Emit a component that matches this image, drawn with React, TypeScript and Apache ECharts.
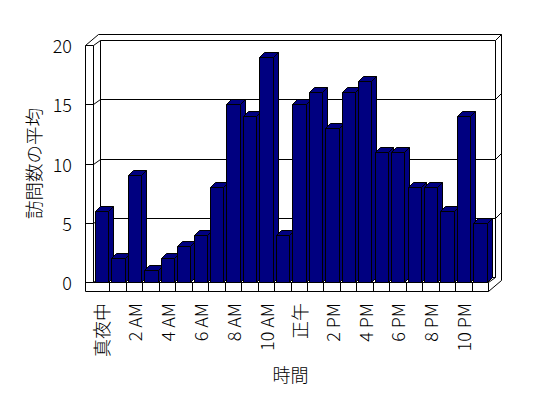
import React, { useEffect, useRef } from 'react';
import * as echarts from 'echarts';

const hours = [
  '真夜中', '1 AM', '2 AM', '3 AM', '4 AM', '5 AM', '6 AM', '7 AM', '8 AM', '9 AM', '10 AM', '11 AM',
  '正午', '1 PM', '2 PM', '3 PM', '4 PM', '5 PM', '6 PM', '7 PM', '8 PM', '9 PM', '10 PM', '11 PM',
];
const visits = [6, 2, 9, 1, 2, 3, 4, 8, 15, 14, 19, 4, 15, 16, 13, 16, 17, 11, 11, 8, 8, 6, 14, 5];
const yTicks = [0, 5, 10, 15, 20];

const FONT = '"Noto Sans CJK JP", "Noto Sans", sans-serif';
const WALL_DX = 7;
const WALL_DY = -5;
const THICK = 6;
const LEFT_W = 8;
const FLOOR_H = 9;
const BAR_DX = 5;
const BAR_DY = -5;

const s = (n: number) => Math.round(n) + 0.5;
const lineStyle = { stroke: '#000', lineWidth: 1, fill: 'none' };

function line(pts: number[][]) {
  return { type: 'polyline', shape: { points: pts.map(([x, y]) => [s(x), s(y)]) }, style: lineStyle };
}

function frameItem(params: any, api: any) {
  const cs = params.coordSys;
  const L = cs.x, R = cs.x + cs.width, T = cs.y, B = cs.y + cs.height;
  const v = api.value(1);
  const y = api.coord([0, v])[1];
  const children: any[] = [];
  if (params.dataIndex === 0) {
    const n = hours.length;
    const bw = cs.width / n;
    children.push(line([
      [L - LEFT_W, B + FLOOR_H], [L - LEFT_W, T], [L - LEFT_W + 13, T - 11],
      [R + WALL_DX + THICK, T - 11], [R + WALL_DX + THICK, B - 2], [R, B + FLOOR_H],
    ]));
    children.push(line([[L, T], [L, B]]));
    children.push(line([[L + WALL_DX, T + WALL_DY], [L + WALL_DX, B + WALL_DY]]));
    children.push(line([[R + WALL_DX, T + WALL_DY], [R + WALL_DX, B + WALL_DY]]));
    children.push(line([[L, B], [R, B], [R + WALL_DX, B + WALL_DY]]));
    children.push(line([[L - LEFT_W, B + FLOOR_H], [R, B + FLOOR_H], [R, B]]));
    for (let k = 1; k < n; k++) {
      const x = L + k * bw;
      children.push(line([[x, B], [x, B + FLOOR_H]]));
    }
  }
  const pts = [[L - LEFT_W, y], [L, y], [L + WALL_DX, y + WALL_DY], [R + WALL_DX, y + WALL_DY]];
  if (v !== 0) pts.push([R + WALL_DX + THICK, y + WALL_DY - THICK]);
  children.push(line(pts));
  return { type: 'group', children };
}

function barItem(params: any, api: any) {
  const i = api.value(0);
  const v = api.value(1);
  const [cx, yTop] = api.coord([i, v]);
  const yBase = api.coord([i, 0])[1];
  const bw = api.size([1, 0])[0];
  const x0 = s(cx - bw / 2 + 0.11 * bw);
  const x1 = s(cx - bw / 2 + 0.92 * bw);
  const yv = s(yTop);
  const y0 = s(yBase);
  const style = { fill: '#000080', stroke: '#000', lineWidth: 1 };
  return {
    type: 'group',
    children: [
      { type: 'polygon', shape: { points: [[x0, yv], [x1, yv], [x1, y0], [x0, y0]] }, style },
      { type: 'polygon', shape: { points: [[x0, yv], [x0 + BAR_DX, yv + BAR_DY], [x1 + BAR_DX, yv + BAR_DY], [x1, yv]] }, style },
      { type: 'polygon', shape: { points: [[x1, yv], [x1 + BAR_DX, yv + BAR_DY], [x1 + BAR_DX, y0 + BAR_DY], [x1, y0]] }, style },
    ],
  };
}

export default function App() {
  const ref = useRef<HTMLDivElement>(null);
  useEffect(() => {
    const chart = echarts.init(ref.current!, undefined, { renderer: 'svg' });
    chart.setOption({
      animation: false,
      backgroundColor: '#fff',
      textStyle: { fontFamily: FONT },
      grid: { left: 93, top: 45, width: 395, height: 237, containLabel: false },
      xAxis: {
        type: 'category',
        data: hours,
        axisLine: { show: false },
        axisTick: { show: false },
        splitLine: { show: false },
        axisLabel: { interval: 1, rotate: 90, margin: 21, fontSize: 18, fontWeight: 300, color: '#000', fontFamily: FONT },
        name: '時間',
        nameLocation: 'middle',
        nameGap: 82,
        nameTextStyle: { fontSize: 18, fontWeight: 300, color: '#000', fontFamily: FONT },
      },
      yAxis: {
        type: 'value',
        min: 0,
        max: 20,
        interval: 5,
        axisLine: { show: false },
        axisTick: { show: false },
        splitLine: { show: false },
        axisLabel: { margin: 21, fontSize: 18, fontWeight: 300, color: '#000', fontFamily: FONT },
        name: '訪問数の平均',
        nameLocation: 'middle',
        nameGap: 51,
        nameTextStyle: { fontSize: 18.5, fontWeight: 300, color: '#000', fontFamily: FONT },
      },
      series: [
        {
          type: 'custom',
          silent: true,
          clip: false,
          z: 1,
          data: yTicks.map((v) => [0, v]),
          encode: { x: 0, y: 1 },
          renderItem: frameItem,
        },
        {
          type: 'custom',
          silent: true,
          clip: false,
          z: 2,
          data: visits.map((v, i) => [i, v]),
          encode: { x: 0, y: 1 },
          renderItem: barItem,
        },
      ],
    });
    return () => chart.dispose();
  }, []);
  return (
    <div
      ref={ref}
      style={{ position: 'fixed', left: 0, top: 0, width: 548, height: 398, background: '#fff' }}
    />
  );
}
